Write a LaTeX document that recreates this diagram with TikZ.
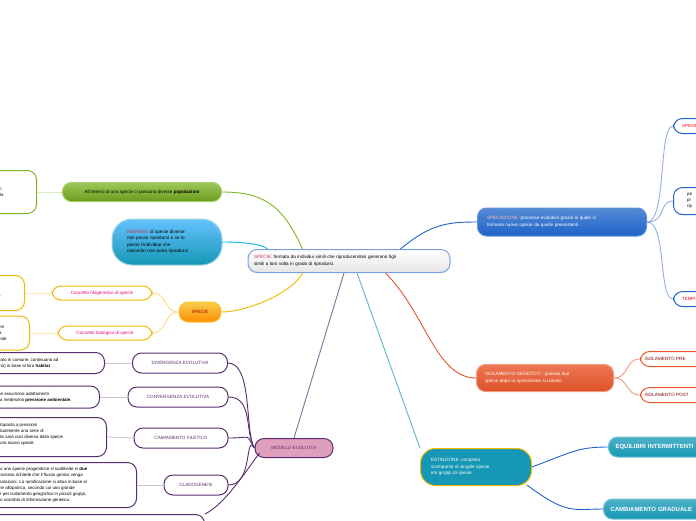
\documentclass[tikz,border=0pt]{standalone}
\usepackage{fontspec}
\setmainfont{Liberation Sans}
\usetikzlibrary{calc}
\definecolor{cblue}{HTML}{1E63C8}
\definecolor{corange}{HTML}{E8562A}
\definecolor{cteal}{HTML}{1597B5}
\definecolor{cpurple}{HTML}{5A2D6E}
\definecolor{cyellow}{HTML}{F5B800}
\definecolor{cgreen}{HTML}{7DB622}
\definecolor{cred}{HTML}{D0304A}
\tikzset{
  box/.style={rounded corners=9pt, line width=1pt, inner sep=2pt, align=left, font=\fontsize{4.6}{6.4}\selectfont},
  topic/.style={box, text=white, minimum height=22pt},
  wbox/.style={box, fill=white},
  txt/.style={inner sep=0pt, align=left, anchor=west, font=\fontsize{4.4}{6.2}\selectfont},
  link/.style={line width=0.9pt}
}
\begin{document}
\begin{tikzpicture}[x=1pt, y=-1pt]
  \useasboundingbox (0,0) rectangle (696,520);
  \clip (0,0) rectangle (696,520);
  % centre
  \node[box, draw=cblue!60, top color=white, bottom color=gray!20, minimum width=202pt, minimum height=23pt, text width=190pt] (spec) at (349,261)
    {\textcolor{cred}{SPECIE:} formata da individui simili che riproducendosi generano figli\\simili a loro volta in grado di riprodursi.};
  % speciazione
  \node[topic, draw=cblue!70, top color=cblue!75, bottom color=cblue, minimum width=169pt, minimum height=28pt, text width=150pt] (speciaz) at (562,222)
    {\textcolor{pink}{SPECIAZIONE} :processo evolutivo grazie al quale si\\formano nuove specie da quelle preesistenti.};
  \node[wbox, draw=cblue, minimum height=15pt, anchor=west, minimum width=60pt] (spA) at (673,126) {};
  \node[wbox, draw=cblue, minimum height=27pt, anchor=west, minimum width=60pt] (spB) at (673,201) {};
  \node[wbox, draw=cblue, minimum height=15pt, anchor=west, minimum width=60pt] (spC) at (673,299) {};
  \node[txt, text=red] (tA) at (682,126) {SPECIE};
  \node[txt] (tB) at (687,201) {pe\\pr\\rip};
  \node[txt, text=red] (tC) at (682,299) {TEMPI};
  \draw[link, cblue!50] (speciaz.east) .. controls +(20,0) and +(-15,0) .. (spA.west);
  \draw[link, cblue!50] (speciaz.east) .. controls +(20,0) and +(-15,0) .. (spB.west);
  \draw[link, cblue!50] (speciaz.east) .. controls +(20,0) and +(-15,0) .. (spC.west);
  % isolamento
  \node[topic, draw=corange!60, top color=corange!80, bottom color=corange!95!black, minimum width=137pt, minimum height=27pt, text width=120pt] (isol) at (545,378)
    {ISOLAMENTO GENETICO : quando due\\specie dopo la speciazione si isolano};
  \node[wbox, draw=corange, text=red!50!black, minimum height=15pt, anchor=west, minimum width=80pt, text width=72pt] (isA) at (640,359) {ISOLAMENTO PRE};
  \node[wbox, draw=corange, text=red!50!black, minimum height=15pt, anchor=west, minimum width=80pt, text width=72pt] (isB) at (640,395) {ISOLAMENTO POST};
  \draw[link, corange!60] (isol.east) .. controls +(15,0) and +(-15,0) .. (isA.west);
  \draw[link, corange!60] (isol.east) .. controls +(15,0) and +(-15,0) .. (isB.west);
  % estinzione
  \node[topic, draw=cyellow, fill=cteal, minimum width=111pt, minimum height=37pt, text width=90pt, rounded corners=15pt] (estin) at (476,467)
    {ESTINZIONE :completa\\scomparsa di singole specie\\e/o gruppi di specie.};
  \node[topic, draw=cteal!60, top color=cteal!75, bottom color=cteal, minimum height=20pt, anchor=west, minimum width=120pt, text width=106pt, font=\bfseries\fontsize{6}{7}\selectfont] (eqA) at (608,447) {EQUILIBRI INTERMITTENTI};
  \node[topic, draw=cteal!60, top color=cteal!75, bottom color=cteal, minimum height=20pt, anchor=west, minimum width=120pt, text width=106pt, font=\bfseries\fontsize{6}{7}\selectfont] (eqB) at (603,509) {CAMBIAMENTO GRADUALE};
  \draw[link, cblue] (estin.east) .. controls +(40,-15) and +(-30,0) .. (eqA.west);
  \draw[link, cblue] (estin.east) ++(-5,18) .. controls +(40,30) and +(-30,0) .. (eqB.west);
  % modelli evolutivi
  \node[box, draw=cpurple, fill=violet!30!pink!80, text=cpurple, minimum width=78pt, minimum height=19pt] (model) at (294,448) {MODELLI EVOLUTIVI};
  \node[wbox, draw=cpurple, text=cpurple, minimum width=95pt, minimum height=20pt] (divg) at (180,363) {DIVERGENZA EVOLUTIVA};
  \node[wbox, draw=cpurple, text=cpurple, minimum width=100pt, minimum height=20pt] (conv) at (178,397) {CONVERGENZA EVOLUTIVA};
  \node[wbox, draw=cpurple, text=cpurple, minimum width=94pt, minimum height=20pt] (filet) at (181,438) {CAMIAMENTO FILETICO};
  \node[wbox, draw=cpurple, text=cpurple, minimum width=64pt, minimum height=20pt] (clado) at (196,485) {CLADOGENESI};
  \node[wbox, draw=cpurple, anchor=east, minimum width=150pt, minimum height=21pt] (dA) at (105,363) {};
  \node[wbox, draw=cpurple, anchor=east, minimum width=150pt, minimum height=22pt] (dB) at (100,397) {};
  \node[wbox, draw=cpurple, anchor=east, minimum width=150pt, minimum height=39pt] (dC) at (107,437) {};
  \node[wbox, draw=cpurple, anchor=east, minimum width=180pt, minimum height=45pt] (dD) at (137,485) {};
  \node[wbox, draw=cpurple, anchor=north east, minimum width=220pt, minimum height=20pt] (dE) at (205,514) {};
  \node[txt] at (-2,363) {nato in comune, continuano ad\\mo) in base al loro \textbf{habitat}.};
  \node[txt] at (-2,397) {ne assumono adattamenti\\lla medesima \textbf{pressione ambientale}.};
  \node[txt] at (-1,437) {ttoposta a pressioni\\dualmente una serie di\\do sarà così diversa dalla specie\\una nuova specie.\\.};
  \node[txt] at (-1,485) {ui una specie progenitrice si suddivide in \textbf{due}\\rocesso richiede che il flusso genico venga\\polazioni. La ramificazione si attua in base al\\ne allopatrica, secondo cui una grande\\e per isolamento geografico in piccoli gruppi,\\ lo scambio di informazione genetica.};
  \foreach \m/\d in {divg/dA, conv/dB, filet/dC, clado/dD} {
    \draw[link, cpurple!30] (\m.west) -- (\d.east);
  }
  \foreach \m in {divg, conv, filet, clado} {
    \draw[link, cpurple] (\m.east) .. controls +(25,0) and +(-10,-15) .. (model.west);
  }
  \draw[link, cpurple] (model.west) ++(5,5) .. controls +(-15,20) and +(20,-10) .. (dE.north east);
  % specie (concetti)
  \node[box, draw=cyellow!80, top color=cyellow!70, bottom color=orange!90!yellow, text=red!60!black, minimum width=42pt, minimum height=20pt] (conc) at (200,312) {SPECIE};
  \node[wbox, draw=cyellow, text=magenta!80!red, minimum width=100pt, minimum height=14pt] (filo) at (102,293) {Concetto filogenetico di specie};
  \node[wbox, draw=cyellow, text=magenta!80!red, minimum width=94pt, minimum height=14pt] (biol) at (105,333) {Concetto biologico di specie};
  \node[wbox, draw=cyellow, anchor=east, minimum width=80pt, minimum height=35pt] (fA) at (25,293) {};
  \node[wbox, draw=cyellow, anchor=east, minimum width=80pt, minimum height=34pt] (bA) at (30,333) {};
  \node[txt] at (-2,296) {o};
  \node[txt] at (-1,333) {he\\a\\role};
  \draw[link, cyellow!50] (conc.west) .. controls +(-15,0) and +(15,0) .. (filo.east);
  \draw[link, cyellow!50] (conc.west) .. controls +(-15,0) and +(15,0) .. (biol.east);
  \draw[link, cyellow!30] (filo.west) -- (fA.east);
  \draw[link, cyellow!30] (biol.west) -- (bA.east);
  % individui
  \node[topic, draw=cteal!40, top color=cyan!60!blue!60, bottom color=cteal, minimum width=110pt, minimum height=46pt, text width=80pt, rounded corners=20pt, text=black] (indiv) at (167,242)
    {\textcolor{cred}{INDIVIDUI} di specie diverse\\non posso riprodursi o se lo\\panno l'individuo che\\nasceràn non potrà riprodursi};
  % popolazioni
  \node[box, draw=cgreen!70, top color=cgreen!75, bottom color=cgreen!85!black, minimum width=159pt, minimum height=19pt] (popol) at (142,192) {All'interno di una specie ci possono diverse \textbf{popolazioni}};
  \node[wbox, draw=cgreen, anchor=east, minimum width=80pt, minimum height=43pt] (pA) at (37,192) {};
  \node[txt] at (-1,192) {ri\\lla};
  \draw[link, cgreen!30] (popol.west) -- (pA.east);
  % main links
  \draw[link, cblue] ($(spec.north east)+(-50,0)$) .. controls +(30,-25) and +(-30,0) .. (speciaz.west);
  \draw[link, corange] ($(spec.south east)+(-65,0)$) .. controls +(40,40) and +(-40,0) .. (isol.west);
  \draw[link, cteal!70] ($(spec.south)+(8,0)$) -- (estin.north west);
  \draw[link, cpurple!70] ($(spec.south)+(-5,0)$) -- (model.north);
  \draw[link, cyellow] ($(spec.south west)+(55,0)$) .. controls +(-10,20) and +(25,0) .. (conc.east);
  \draw[link, cgreen] ($(spec.north west)+(55,0)$) .. controls +(-20,-45) and +(40,0) .. (popol.east);
  \draw[link, cblue!50!cyan] (indiv.east) .. controls +(20,0) and +(-5,-5) .. ($(spec.north west)+(20,0)$);
\end{tikzpicture}
\end{document}
